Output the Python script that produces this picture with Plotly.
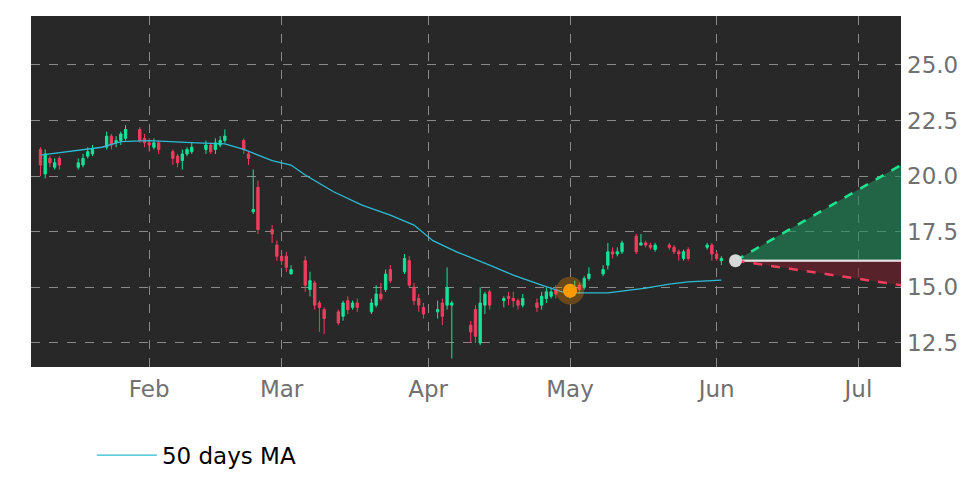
import pandas as pd
import plotly.graph_objects as go

holidays = ["2023-01-16", "2023-02-20", "2023-04-07", "2023-05-29"]
dates = pd.bdate_range("2023-01-09", "2023-06-02", freq="C", holidays=holidays)

opens = [21.2, 20.1, 20.8, 20.4, 20.8, 20.4, 20.5, 20.9, 21.0, 21.3, 21.8, 21.5, 21.6, 21.7, 22.1, 21.7,
         21.5, 21.3, 21.5, 21.1, 20.9, 20.7, 21.0, 21.1, 21.2, 21.4, 21.2, 21.4, 21.6, 21.6, 21.0, 18.4, 19.5, 17.6, 16.9,
         16.4, 16.4, 15.6, 16.2, 14.9, 15.2, 14.3, 14.0, 13.9, 13.7, 14.4, 14.1, 14.3, 13.9, 14.2, 14.7, 14.9, 15.8, 15.7, 16.2, 15.0, 14.5, 14.1,
         13.9, 14.3, 14.2, 14.2, 13.3, 14.0, 12.5, 14.2, 14.8, 14.4, 14.6, 14.5, 14.4, 14.2, 14.3, 14.2, 14.5, 14.6, 14.9,
         14.7, 14.8, 15.1, 15.0, 15.4, 15.6, 16.0, 16.6, 16.5, 16.6, 17.3, 16.9, 17.0, 16.9, 16.7, 16.9, 16.8, 16.6, 16.3, 16.7, 16.8, 16.9,
         16.5, 16.2]
highs = [21.3, 21.2, 20.9, 20.8, 20.9, 20.8, 21.0, 21.3, 21.4, 22.0, 21.9, 21.8, 22.0, 22.3, 22.2, 21.9,
         21.7, 21.7, 21.6, 21.2, 21.0, 21.2, 21.3, 21.5, 21.6, 21.5, 21.7, 21.8, 22.1, 21.7, 21.1, 20.3, 19.8, 17.8, 17.1,
         16.5, 16.6, 16.0, 16.4, 15.7, 15.3, 14.4, 14.1, 14.0, 14.4, 14.6, 14.4, 14.5, 14.5, 15.1, 15.2, 15.8, 16.0, 16.5, 16.4, 15.2, 14.7, 14.3,
         14.4, 14.5, 15.9, 14.4, 13.5, 14.2, 15.0, 14.8, 14.9, 14.6, 14.8, 14.8, 14.5, 14.7, 14.5, 14.8, 15.0, 15.0, 15.1,
         15.0, 15.3, 15.2, 15.5, 15.9, 16.0, 17.0, 16.8, 16.8, 17.1, 17.4, 17.4, 17.1, 17.0, 17.0, 17.0, 16.9, 16.7, 16.7, 16.8, 17.0, 17.0,
         16.6, 16.4]
lows = [20.0, 19.9, 20.4, 20.3, 20.3, 20.3, 20.4, 20.8, 20.9, 21.2, 21.2, 21.3, 21.4, 21.6, 21.5, 21.3,
        21.1, 21.2, 21.0, 20.5, 20.4, 20.3, 20.9, 21.0, 21.0, 21.0, 21.0, 21.3, 21.5, 21.0, 20.5, 18.3, 17.4, 17.0, 16.2,
        16.0, 15.7, 15.6, 14.8, 14.6, 14.0, 13.0, 12.9, 13.3, 13.5, 13.8, 14.0, 13.9, 13.8, 14.1, 14.4, 14.8, 15.2, 15.6, 15.0, 14.2, 13.9, 13.6,
        13.6, 13.3, 14.0, 11.8, 12.5, 12.5, 12.4, 13.8, 14.0, 14.1, 14.2, 14.1, 14.0, 14.1, 13.9, 14.0, 14.3, 14.5, 14.5,
        14.5, 14.6, 14.7, 14.9, 15.3, 15.5, 15.8, 16.3, 16.4, 16.5, 16.5, 16.9, 16.8, 16.7, 16.6, 16.7, 16.5, 16.2, 16.2, 16.2, 16.7, 16.2,
        16.2, 16.0]
closes = [20.5, 21.0, 20.6, 20.6, 20.5, 20.6, 20.8, 21.1, 21.2, 21.8, 21.4, 21.6, 21.9, 22.1, 21.6, 21.5,
          21.4, 21.5, 21.2, 20.8, 20.6, 21.0, 21.2, 21.3, 21.4, 21.1, 21.5, 21.6, 21.8, 21.2, 20.8, 18.5, 17.6, 17.4, 16.4,
          16.2, 15.9, 15.8, 15.1, 15.3, 14.2, 14.1, 13.6, 13.4, 14.3, 14.0, 14.3, 14.1, 14.3, 14.7, 14.5, 15.6, 15.3, 16.3, 15.1, 14.4, 14.2, 13.8,
          14.0, 13.7, 15.0, 14.3, 13.0, 12.8, 14.3, 14.7, 14.2, 14.5, 14.5, 14.4, 14.2, 14.5, 14.1, 14.6, 14.8, 14.8, 14.7,
          14.8, 15.0, 14.9, 15.4, 15.6, 15.8, 16.6, 16.5, 16.6, 17.0, 16.6, 17.0, 16.9, 16.8, 16.9, 16.8, 16.6, 16.5, 16.6, 16.3, 16.9, 16.5,
          16.3, 16.3]

ma_dates = ["2023-01-09", "2023-01-22", "2023-01-26", "2023-02-01", "2023-02-11", "2023-02-17", "2023-02-21",
            "2023-02-27", "2023-03-03", "2023-03-06", "2023-03-12", "2023-03-18", "2023-03-24", "2023-03-29",
            "2023-04-02", "2023-04-07", "2023-04-14", "2023-04-19", "2023-04-25", "2023-04-30", "2023-05-09",
            "2023-05-17", "2023-05-22", "2023-05-26", "2023-06-02"]
ma_values = [20.95, 21.3, 21.55, 21.6, 21.5, 21.45, 21.2, 20.7, 20.5, 20.05, 19.3, 18.7, 18.25, 17.8,
             17.1, 16.6, 16.0, 15.55, 15.1, 14.75, 14.75, 14.97, 15.15, 15.25, 15.33]

signal_date, signal_price = "2023-05-01", 14.85
pred_dates = ["2023-06-05", "2023-07-10"]
pred_mid = [16.2, 16.2]
pred_up = [16.2, 20.5]
pred_down = [16.2, 15.1]

fig = go.Figure()
fig.add_trace(go.Candlestick(
    x=dates, open=opens, high=highs, low=lows, close=closes,
    increasing=dict(line=dict(color="#17e39a", width=1), fillcolor="#17e39a"),
    decreasing=dict(line=dict(color="#f23d5e", width=1), fillcolor="#f23d5e"),
    showlegend=False))
fig.add_trace(go.Scatter(x=ma_dates, y=ma_values, mode="lines", name="50 days MA",
                         line=dict(color="#2bbcd4", width=1.3)))
fig.add_trace(go.Scatter(x=pred_dates, y=pred_mid, mode="lines", line=dict(color="#e0e0e0", width=2),
                         showlegend=False))
fig.add_trace(go.Scatter(x=pred_dates, y=pred_up, mode="lines", fill="tonexty",
                         fillcolor="rgba(30,140,90,0.6)",
                         line=dict(color="#1de28f", width=2.5, dash="dash"), showlegend=False))
fig.add_trace(go.Scatter(x=pred_dates, y=pred_mid, mode="lines", line=dict(color="#e0e0e0", width=2),
                         showlegend=False))
fig.add_trace(go.Scatter(x=pred_dates, y=pred_down, mode="lines", fill="tonexty",
                         fillcolor="rgba(120,30,45,0.6)",
                         line=dict(color="#f23d5e", width=2.5, dash="dash"), showlegend=False))
fig.add_trace(go.Scatter(x=[pred_dates[0]], y=[pred_mid[0]], mode="markers",
                         marker=dict(color="#d8d8d8", size=13), showlegend=False))
fig.add_trace(go.Scatter(x=[signal_date], y=[signal_price], mode="markers",
                         marker=dict(color="rgba(255,150,0,0.3)", size=28), showlegend=False))
fig.add_trace(go.Scatter(x=[signal_date], y=[signal_price], mode="markers",
                         marker=dict(color="#ff9b00", size=14), showlegend=False))

grid = dict(showgrid=True, gridcolor="#8a8a8a", griddash="dash", gridwidth=1, zeroline=False)
fig.update_layout(
    width=972, height=486, paper_bgcolor="white", plot_bgcolor="#282828",
    margin=dict(l=23, r=79, t=8, b=127, autoexpand=False),
    font=dict(family="DejaVu Sans", size=22, color="#707070"),
    xaxis=dict(range=["2023-01-07", "2023-07-10"], rangeslider=dict(visible=False),
               tickformat="%b", dtick="M1", tick0="2023-02-01", ticks="",
               tickfont=dict(size=23), ticklabelstandoff=6, **grid),
    yaxis=dict(side="right", range=[11.42, 27.2], dtick=2.5, tickformat=".1f", ticks="",
               tickfont=dict(size=23), ticklabelstandoff=5, **grid),
    legend=dict(orientation="h", x=0.07, y=-0.19, xanchor="left", yanchor="top",
                itemwidth=60, font=dict(color="black", size=23)),
)
fig.write_html("out.html")
